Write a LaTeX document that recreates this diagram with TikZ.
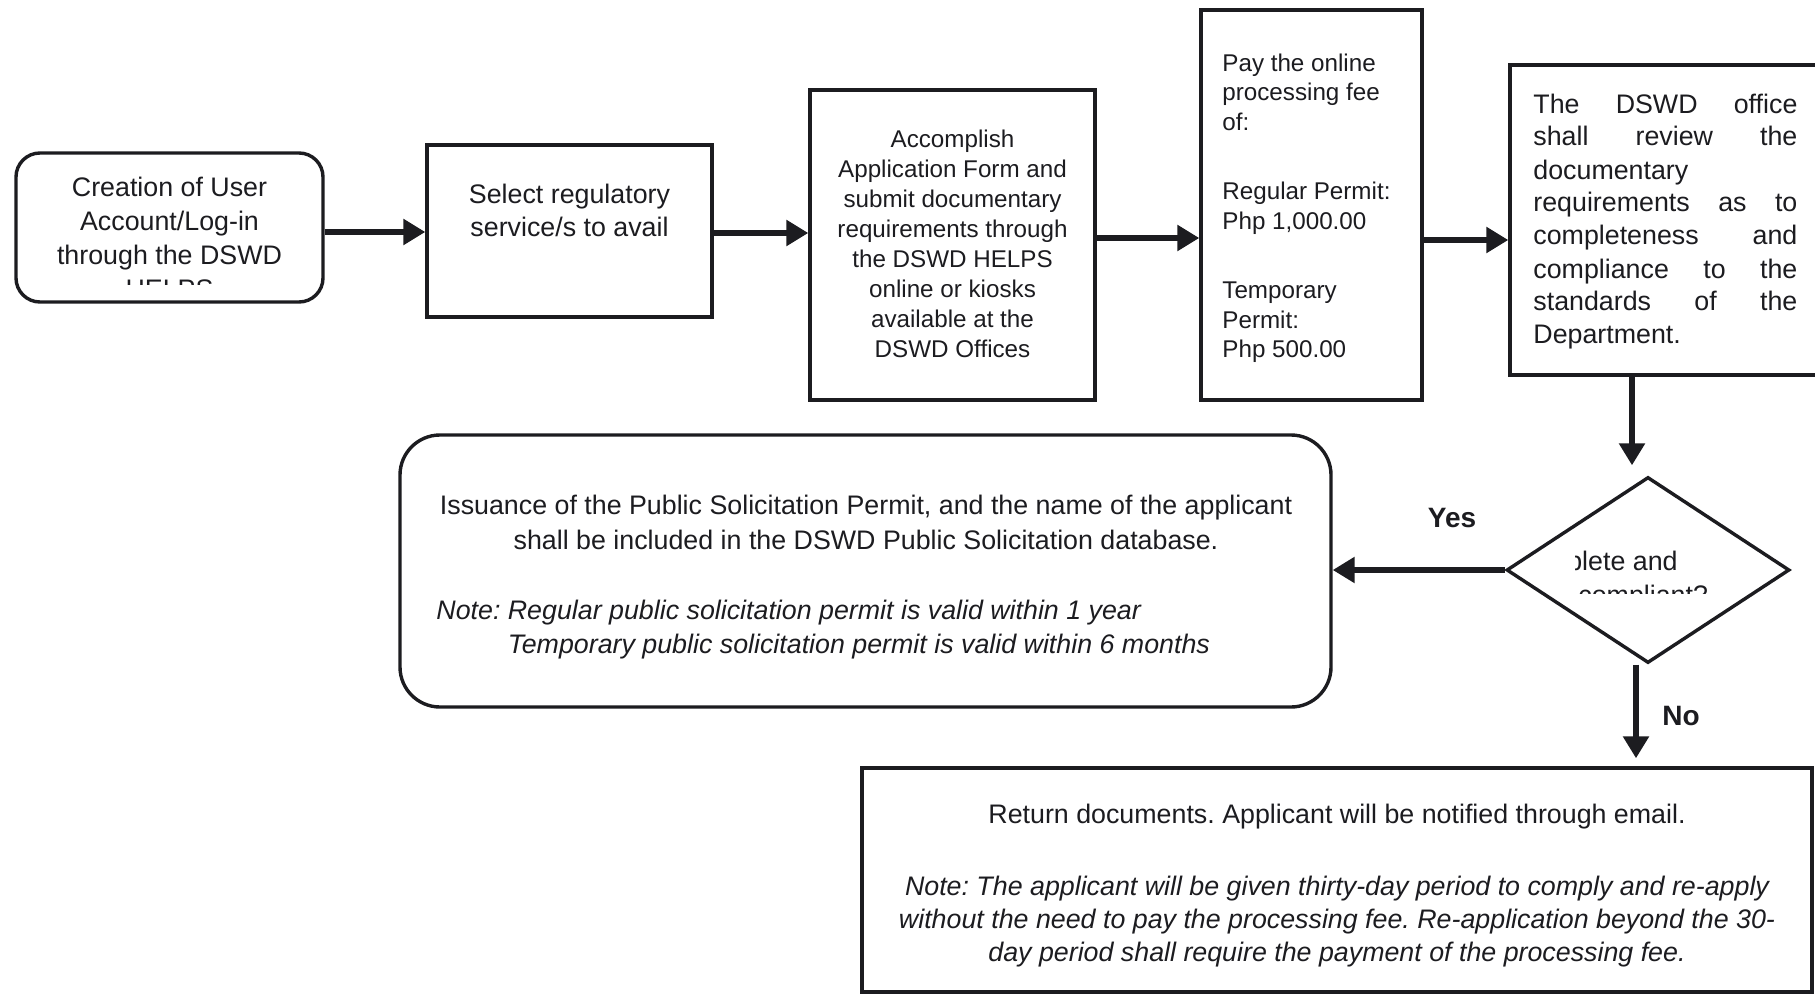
\documentclass[tikz,border=0pt]{standalone}
\usepackage{fontspec}
\setmainfont{Liberation Sans}
\usetikzlibrary{arrows.meta,shapes.geometric}
\definecolor{ink}{RGB}{28,28,32}
\newcommand\fsz[1]{\fontsize{13.4pt}{#1}\selectfont}
\newcommand\fsm[1]{\fontsize{12.1pt}{#1}\selectfont}
\newcommand\jl[1]{\makebox[132pt][s]{#1}}
\begin{document}
\frenchspacing
\begin{tikzpicture}[x=0.5pt,y=-0.5pt,
  box/.style={draw=ink, line width=1.7pt, inner sep=0pt},
  arr/.style={draw=ink, line width=3.2pt, -{Triangle[length=11pt,width=12.5pt]}},
  txt/.style={inner sep=0pt, text=ink},
  lbl/.style={inner sep=0pt, text=ink, font=\fontsize{14pt}{16pt}\selectfont\bfseries}]
\useasboundingbox (0,0) rectangle (1815,995);
\clip (0,0) rectangle (1815,995);
\fill[white] (0,0) rectangle (1815,995);

% boxes
\node[box, rounded corners=12pt, minimum width=153.5pt, minimum height=74.5pt] (b1) at (169.5,227.5) {};
\node[box, minimum width=142.5pt, minimum height=86pt] (b2) at (569.5,231) {};
\node[box, minimum width=142.5pt, minimum height=155pt] (b3) at (952.5,245) {};
\node[box, minimum width=110.5pt, minimum height=195pt] (b4) at (1311.5,205) {};
\node[box, minimum width=165pt, minimum height=155pt] (b5) at (1675,220) {};
\node[box, diamond, minimum width=141.5pt, minimum height=93pt] (dia) at (1648,570) {};
\node[box, rounded corners=20pt, minimum width=465.5pt, minimum height=136pt] (iss) at (865.5,571) {};
\node[box, minimum width=475pt, minimum height=112pt] (ret) at (1337,880) {};

% texts
\begin{scope}
\clip (16,153) rectangle (323,284);
\node[txt, anchor=base, font=\fsz{17pt}] (t1) at (169.5,197)
  {\begin{tabular}[t]{@{}c@{}}Creation of User\\Account/Log-in\\through the DSWD\\HELPS\end{tabular}};
\end{scope}
\node[txt, anchor=base, font=\fsz{17pt}] (t2) at (569.5,203)
  {\begin{tabular}[t]{@{}c@{}}Select regulatory\\service/s to avail\end{tabular}};
\node[txt, anchor=base, font=\fsm{15pt}] (t3) at (952.5,148)
  {\begin{tabular}[t]{@{}c@{}}Accomplish\\Application Form and\\submit documentary\\requirements through\\the DSWD HELPS\\online or kiosks\\available at the\\DSWD Offices\end{tabular}};
\node[txt, anchor=base west, font=\fsm{14.75pt}] (t4) at (1222,71.5)
  {\begin{tabular}[t]{@{}l@{}}Pay the online\\processing fee\\of:\\[20pt]Regular Permit:\\Php 1,000.00\\[20pt]Temporary\\Permit:\\Php 500.00\end{tabular}};
\node[txt, anchor=base west, font=\fsz{16.5pt}] (t5) at (1533,113)
  {\begin{tabular}[t]{@{}l@{}}\jl{The DSWD office}\\\jl{shall review the}\\documentary\\\jl{requirements as to}\\\jl{completeness and}\\\jl{compliance to the}\\\jl{standards of the}\\Department.\end{tabular}};
\begin{scope}
\clip (1575,530) rectangle (1760,593);
\node[txt, anchor=base east, font=\fsz{15pt}] (q1) at (1678,570) {Complete and};
\node[txt, anchor=base west, font=\fsz{15pt}] (q2) at (1578,604) {compliant?};
\end{scope}
\node[txt, anchor=base, font=\fsz{17.5pt}] (i1) at (866,514)
  {\begin{tabular}[t]{@{}c@{}}Issuance of the Public Solicitation Permit, and the name of the applicant\\shall be included in the DSWD Public Solicitation database.\end{tabular}};
\node[txt, anchor=base west, font=\fsz{17pt}\itshape] (i2) at (436,619)
  {\begin{tabular}[t]{@{}l@{}l@{}}Note:~\null&Regular public solicitation permit is valid within 1 year\\&Temporary public solicitation permit is valid within 6 months\end{tabular}};
\node[txt, anchor=base, font=\fsz{16.5pt}] (r1) at (1337,823)
  {\begin{tabular}[t]{@{}c@{}}Return documents. Applicant will be notified through email.\\[19.5pt]
  \itshape Note: The applicant will be given thirty-day period to comply and re-apply\\
  \itshape without the need to pay the processing fee. Re-application beyond the 30-\\
  \itshape day period shall require the payment of the processing fee.\end{tabular}};
\node[lbl, anchor=base] (yes) at (1452,527) {Yes};
\node[lbl, anchor=base] (no) at (1681,725) {No};

% connectors
\coordinate (a1) at ([yshift=-2.25pt]b1.east);
\coordinate (a2) at ([yshift=-1pt]b2.east);
\coordinate (a3) at ([yshift=3.5pt]b3.east);
\coordinate (a4) at ([yshift=-17.5pt]b4.east);
\coordinate (dn) at ([xshift=-8pt]dia.north);
\coordinate (ds) at ([xshift=-6pt]dia.south);
\draw[arr] (a1) -- (a1 -| b2.west);
\draw[arr] (a2) -- (a2 -| b3.west);
\draw[arr] (a3) -- (a3 -| b4.west);
\draw[arr] (a4) -- (a4 -| b5.west);
\draw[arr, shorten >=5pt] (dn |- b5.south) -- (dn);
\draw[arr] (dia.west) -- (dia.west -| iss.east);
\draw[arr, shorten >=4pt] (ds) -- (ds |- ret.north);
\end{tikzpicture}
\end{document}
